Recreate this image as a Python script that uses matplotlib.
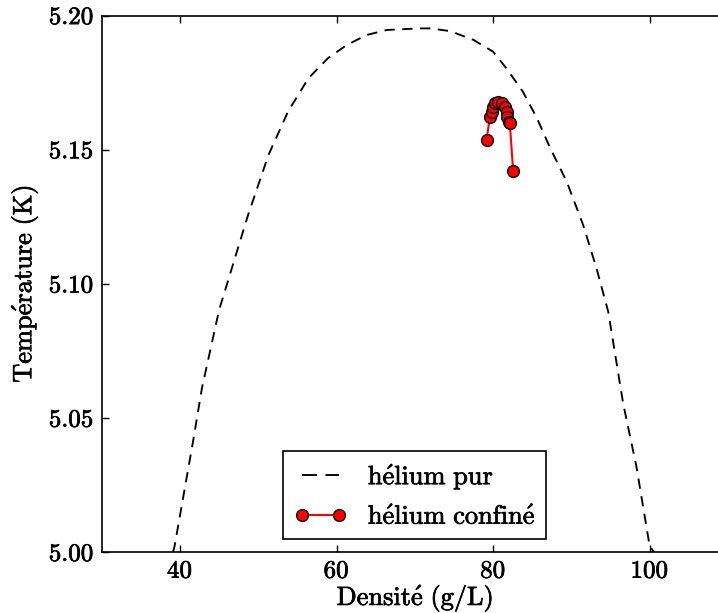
import matplotlib
matplotlib.use("Agg")
import matplotlib.pyplot as plt
import matplotlib.patheffects as pe
from matplotlib.ticker import FormatStrFormatter, MultipleLocator

# courbe de coexistence liquide-gaz de l'hélium pur
rho_pur = [39.1, 39.3, 41.7, 42.8, 45.0, 48.7, 51.3, 53.8, 56.4, 58.9, 61.3,
           63.8, 66.4, 70.6, 71.9, 74.5, 77.5, 80.0, 81.7, 83.8, 85.6, 87.3,
           89.4, 91.5, 93.2, 94.7, 96.6, 98.3, 100.0, 100.6]
T_pur = [5.000, 5.0021, 5.0418, 5.0611, 5.0903, 5.1257, 5.1480, 5.1642,
         5.1766, 5.1841, 5.1890, 5.1927, 5.1946, 5.1952, 5.1952, 5.1942,
         5.1909, 5.1865, 5.1803, 5.1716, 5.1617, 5.1505, 5.1381, 5.1219,
         5.1058, 5.0896, 5.0555, 5.0319, 5.0021, 5.000]

# hélium confiné (simulation)
rho_conf = [79.16, 79.58, 79.80, 79.92, 80.22, 80.64, 81.07, 81.50, 81.71,
            81.79, 81.99, 82.13, 82.55]
T_conf = [5.1536, 5.1623, 5.1642, 5.1660, 5.1673, 5.1677, 5.1673, 5.1660,
          5.1642, 5.1623, 5.1604, 5.1598, 5.1421]

plt.rcParams["mathtext.fontset"] = "cm"
plt.rcParams["font.family"] = ["cmr10", "DejaVu Serif"]
plt.rcParams["axes.formatter.use_mathtext"] = True
FS = 19
bold = [pe.withStroke(linewidth=0.5, foreground="black")]

fig = plt.figure(figsize=(7.18, 6.13), dpi=100)
ax = fig.add_axes([0.1416, 0.099, 0.8724, 0.8757])

ax.plot(rho_pur, T_pur, color="black", linestyle="--", dashes=(5.5, 4),
        linewidth=1.35, label=r"$\mathrm{h\acute{e}lium\ pur}$")
ax.plot(rho_conf, T_conf, color="red", linewidth=1.5, marker="o",
        markersize=8.5, markerfacecolor="red", markeredgecolor="black",
        markeredgewidth=1.0, label=r"$\mathrm{h\acute{e}lium\ confin\acute{e}}$")

ax.set_xlim(30, 110)
ax.set_ylim(5.00, 5.20)
ax.xaxis.set_major_locator(MultipleLocator(20))
ax.yaxis.set_major_locator(MultipleLocator(0.05))
ax.yaxis.set_major_formatter(FormatStrFormatter("%.2f"))
ax.tick_params(direction="in", top=True, right=True, length=5, width=1,
               labelsize=FS - 1, pad=6)
for s in ax.spines.values():
    s.set_linewidth(1.2)

ax.set_xlabel(r"$\mathrm{Densit\acute{e}\ (g/L)}$", fontsize=FS, labelpad=0)
ax.set_ylabel(r"$\mathrm{Temp\acute{e}rature\ (K)}$", fontsize=FS, labelpad=6)

leg = ax.legend(loc="lower center", bbox_to_anchor=(0.5, 0.024), numpoints=2,
                fontsize=FS, fancybox=False, framealpha=1, borderaxespad=0,
                handlelength=2.0)
leg.get_frame().set_edgecolor("black")
leg.get_frame().set_linewidth(1.2)
# deux tirets seulement dans la poignée de la courbe pointillée
leg.get_lines()[0].set_dashes((8, 4.5))

texts = ax.get_xticklabels() + ax.get_yticklabels() + leg.get_texts()
texts += [ax.xaxis.label, ax.yaxis.label]
for t in texts:
    t.set_path_effects(bold)

fig.savefig("out.png", dpi=100, facecolor="white")
